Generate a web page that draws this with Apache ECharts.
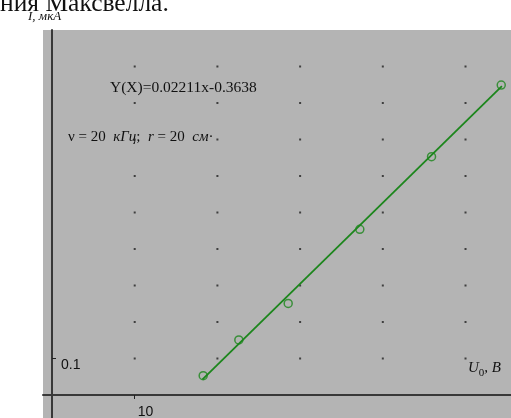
<!DOCTYPE html>
<html>
<head>
<meta charset="utf-8">
<script src="https://cdn.jsdelivr.net/npm/echarts@6/dist/echarts.min.js"></script>
<style>
html,body{margin:0;padding:0;background:#fff;}
#c{width:511px;height:418px;}
</style>
</head>
<body>
<div id="c"></div>
<script>
// Measured points: U0 (V) vs I (мкА)
var uData = [18.28, 22.59, 28.56, 37.22, 45.89, 54.32];
var iData = [0.053, 0.151, 0.251, 0.454, 0.653, 0.849];
// Fitted line endpoints
var fitU = [18.2, 54.4];
var fitI = [0.043, 0.846];
// Grid-dot positions and tick labels
var gridU = [10, 20, 30, 40, 50];
var gridI = [0.1, 0.2, 0.3, 0.4, 0.5, 0.6, 0.7, 0.8, 0.9];
var xTicks = [10];
var yTicks = [0.1];

var dots = [];
gridU.forEach(function (u) { gridI.forEach(function (v) { dots.push([u, v]); }); });
var pts = uData.map(function (u, k) { return [u, iData[k]]; });
var fit = fitU.map(function (u, k) { return [u, fitI[k]]; });

var green = '#1c861c';
var serif = '"Liberation Serif", "DejaVu Serif", serif';
var sans = '"Liberation Sans", Arial, sans-serif';
var chart = echarts.init(document.getElementById('c'), null, {renderer: 'canvas'});
chart.setOption({
  animation: false,
  backgroundColor: '#ffffff',
  grid: [
    // full grey panel with axis lines crossing at zero
    {left: 43, top: 30, right: 0, bottom: 0, show: true, backgroundColor: '#b4b4b4', borderWidth: 0,
     containLabel: false, outerBoundsMode: 'none'},
    // plotting area (origin at the axes' crossing) for ticks, labels and data
    {left: 52, top: 30, right: 0, bottom: 23, show: false, containLabel: false, outerBoundsMode: 'none'}
  ],
  xAxis: [
    {gridIndex: 0, type: 'value', min: -1.03, max: 55.56,
     axisLine: {onZero: true, lineStyle: {color: '#383838', width: 2}},
     axisTick: {show: false}, axisLabel: {show: false}, splitLine: {show: false}},
    {gridIndex: 1, type: 'value', min: 0, max: 55.5, position: 'bottom',
     axisLine: {show: false},
     axisTick: {show: true, customValues: xTicks, length: 4, lineStyle: {color: '#222', width: 1}},
     axisLabel: {customValues: xTicks, color: '#111', fontSize: 14, fontFamily: sans,
                 align: 'left', padding: [0, 0, 0, 3], margin: 10},
     splitLine: {show: false}}
  ],
  yAxis: [
    {gridIndex: 0, type: 'value', min: -0.063, max: 1.0,
     axisLine: {onZero: true, lineStyle: {color: '#383838', width: 2}},
     axisTick: {show: false}, axisLabel: {show: false}, splitLine: {show: false}},
    {gridIndex: 1, type: 'value', min: 0, max: 1.0, position: 'left',
     axisLine: {show: false},
     axisTick: {show: true, inside: true, customValues: yTicks, length: 4, lineStyle: {color: '#222', width: 1}},
     axisLabel: {inside: true, customValues: yTicks, color: '#111', fontSize: 14, fontFamily: sans,
                 align: 'left', verticalAlign: 'top', margin: 9},
     splitLine: {show: false}}
  ],
  series: [
    {type: 'scatter', xAxisIndex: 1, yAxisIndex: 1, data: dots, symbol: 'rect', symbolSize: 2, itemStyle: {color: '#222'}, silent: true, z: 1},
    {type: 'line', xAxisIndex: 1, yAxisIndex: 1, data: fit, symbol: 'none', lineStyle: {color: green, width: 1.8}, z: 2},
    {type: 'scatter', xAxisIndex: 1, yAxisIndex: 1, data: pts, symbol: 'circle', symbolSize: 8, itemStyle: {color: 'rgba(0,0,0,0)', borderColor: green, borderWidth: 1.5}, z: 3}
  ],
  graphic: [
    {type: 'text', left: 0, top: -9, style: {text: 'ния Максвелла.', font: '25.5px ' + serif, fill: '#111'}},
    {type: 'text', left: 28, top: 10, style: {text: 'I, мкА', font: 'italic 13px ' + serif, fill: '#111'}},
    {type: 'text', left: 110, top: 80, style: {text: 'Y(X)=0.02211x-0.3638', font: '15.5px ' + serif, fill: '#111'}},
    {type: 'text', left: 68, top: 130, style: {
      text: '{n|ν = 20  }{i|кГц}{n|;  }{i|r}{n| = 20  }{i|см}{n|·}',
      rich: {
        n: {font: '15px ' + serif, fill: '#111'},
        i: {font: 'italic 15px ' + serif, fill: '#111'}
      }
    }},
    {type: 'text', left: 468, top: 361, style: {
      text: '{i|U}{s|0}{i|, B}',
      rich: {
        i: {font: 'italic 15px ' + serif, fill: '#111', verticalAlign: 'bottom'},
        s: {font: '11px ' + serif, fill: '#111', verticalAlign: 'bottom', padding: [0, 0, -3, 0]}
      }
    }}
  ]
});
</script>
</body>
</html>
